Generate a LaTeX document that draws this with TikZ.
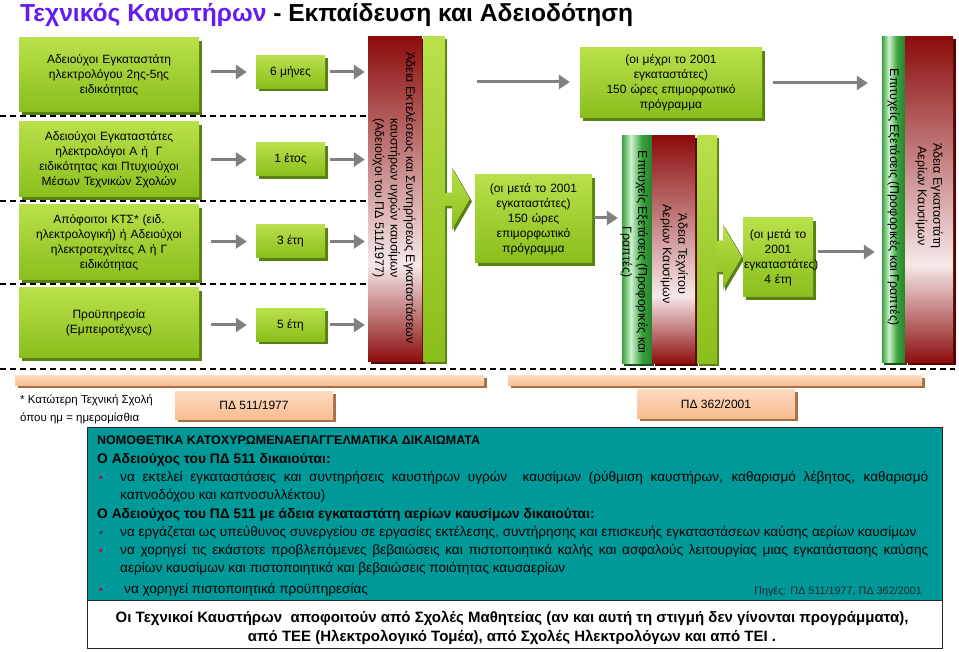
\documentclass[tikz,border=0pt]{standalone}
\usepackage{fontspec}
\setmainfont{Liberation Sans}
\usetikzlibrary{shadows,arrows.meta,calc}
\definecolor{titlepurple}{RGB}{100,28,240}
\definecolor{limeL}{RGB}{184,224,74}
\definecolor{limeD}{RGB}{138,190,28}
\definecolor{limeS}{RGB}{88,128,18}
\definecolor{rdark}{RGB}{140,12,12}
\definecolor{rlight}{RGB}{246,232,232}
\definecolor{rshadow}{RGB}{90,5,5}
\definecolor{eg}{RGB}{58,160,62}
\definecolor{el}{RGB}{205,242,205}
\definecolor{egd}{RGB}{40,130,45}
\definecolor{egS}{RGB}{20,80,20}
\definecolor{peachL}{RGB}{253,218,190}
\definecolor{peachD}{RGB}{248,188,145}
\definecolor{peachS}{RGB}{170,110,70}
\definecolor{teal0}{RGB}{0,153,153}
\definecolor{agray}{RGB}{128,128,128}
\definecolor{bulred}{RGB}{200,0,50}
\pgfdeclareverticalshading{redsh}{100bp}{color(0bp)=(rdark); color(25bp)=(rdark); color(40bp)=(rlight); color(75bp)=(rdark); color(100bp)=(rdark)}
\pgfdeclarehorizontalshading{examsh}{100bp}{color(0bp)=(eg); color(25bp)=(eg); color(40bp)=(el); color(58bp)=(eg); color(75bp)=(egd); color(100bp)=(egd)}
\tikzset{
  gbox/.style={top color=limeL, bottom color=limeD, draw=none,
    drop shadow={shadow xshift=2.5pt,shadow yshift=-3pt,fill=limeS,opacity=1},
    inner sep=1pt, align=center, font=\fontsize{12}{15}\selectfont, text=black},
  lbar/.style={top color=limeL, bottom color=limeD, draw=none,
    drop shadow={shadow xshift=2pt,shadow yshift=-2.5pt,fill=limeS,opacity=1}, inner sep=0pt},
  redbar/.style={shade, shading=redsh, draw=none,
    drop shadow={shadow xshift=2.5pt,shadow yshift=-2.5pt,fill=rshadow,opacity=1}, inner sep=0pt},
  exambar/.style={shade, shading=examsh, draw=none,
    drop shadow={shadow xshift=1.5pt,shadow yshift=-2.5pt,fill=egS,opacity=1}, inner sep=0pt},
  vtext/.style={rotate=-90, align=center, font=\fontsize{12.5}{15.5}\selectfont, inner sep=0pt},
  garr/.style={draw=agray, line width=3pt, -{Triangle[length=11pt,width=14pt]}},
  dline/.style={draw=black, line width=1.5pt, dash pattern=on 6pt off 4pt},
  pbox/.style={top color=peachL, bottom color=peachD, draw=none,
    drop shadow={shadow xshift=2.5pt,shadow yshift=-2.5pt,fill=peachS,opacity=1},
    inner sep=0pt, font=\fontsize{12}{14}\selectfont},
  tline/.style={anchor=base west, inner sep=0pt, font=\fontsize{13.6}{16}\selectfont},
  hline/.style={anchor=base west, inner sep=0pt, font=\fontsize{13.8}{16}\selectfont\bfseries},
  bul/.style={anchor=base west, inner sep=0pt, font=\fontsize{11}{12}\selectfont},
}
\begin{document}
\begin{tikzpicture}[x=1pt,y=-1pt]
\fill[white] (0,0) rectangle (959,652);
\useasboundingbox (0,0) rectangle (959,652);

% title
\node[anchor=base west, inner sep=0pt, font=\fontsize{24.6}{26}\selectfont\bfseries] (title) at (20,22)
  {\textcolor{titlepurple}{Τεχνικός Καυστήρων} - Εκπαίδευση και Αδειοδότηση};

% dashed separators
\coordinate (d1) at (0,116);
\coordinate (d2) at (0,201);
\coordinate (d3) at (0,284);
\coordinate (d4a) at (0,369);
\coordinate (d4b) at (955,369);

% left green boxes
\node[gbox, minimum width=180pt, minimum height=74pt, text width=176pt] (b1) at (109,75)
  {Αδειούχοι Εγκαταστάτη\\ηλεκτρολόγου 2ης-5ης\\ειδικότητας};
\node[gbox, minimum width=180pt, minimum height=75pt, text width=176pt] (b2) at (109,159.5)
  {Αδειούχοι Εγκαταστάτες\\ηλεκτρολόγοι Α ή\ \ Γ\\ειδικότητας και Πτυχιούχοι\\Μέσων Τεχνικών Σχολών};
\node[gbox, minimum width=180pt, minimum height=75pt, text width=176pt] (b3) at (109,242.5)
  {Απόφοιτοι ΚΤΣ* (ειδ.\\ηλεκτρολογική) ή Αδειούχοι\\ηλεκτροτεχνίτες Α ή Γ\\ειδικότητας};
\node[gbox, minimum width=180pt, minimum height=70pt, text width=176pt] (b4) at (109,323)
  {Προϋπηρεσία\\(Εμπειροτέχνες)};

% duration boxes
\node[gbox, minimum width=69pt, minimum height=33pt] (t1) at (290.5,72) {6 μήνες};
\node[gbox, minimum width=69pt, minimum height=33pt] (t2) at (290.5,159.5) {1 έτος};
\node[gbox, minimum width=69pt, minimum height=33pt] (t3) at (290.5,241.5) {3 έτη};
\node[gbox, minimum width=69pt, minimum height=33pt] (t4) at (290.5,325) {5 έτη};

% first licence bar
\node[redbar, minimum width=54pt, minimum height=325pt] (r1) at (395,199.5) {};
\node[lbar, minimum width=22pt, minimum height=325pt] (g1) at (434,199.5) {};
\node[vtext] (r1t) at (394,198)
  {Άδεια Εκτελέσεως και Συντηρήσεως Εγκαταστάσεων\\καυστήρων υγρών καυσίμων\\(Αδειούχοι του ΠΔ 511/1977)};

\draw[dline] (d1) -- (d1 -| r1.west);
\draw[dline] (d2) -- (d2 -| r1.west);
\draw[dline] (d3) -- (d3 -| r1.west);
\draw[dline] (d4a) -- (d4b);

% arrows left part
\foreach \i in {1,2,3,4}{
  \draw[garr] ($(b\i.east |- t\i.west)+(12,0)$) -- ($(t\i.west)+(-9,0)$);
  \draw[garr] ($(t\i.east)+(5,0)$) -- ($(t\i.east -| r1.west)+(-3,0)$);
}

% block arrow 1
\fill[top color=limeL, bottom color=limeD, drop shadow={shadow xshift=2pt,shadow yshift=-2.5pt,fill=limeS,opacity=1}]
  (g1.east |- 0,193) -- (452,193) -- (452,168) -- (470,199) -- (452,230) -- (452,206) -- (g1.east |- 0,206) -- cycle;

% middle boxes
\node[gbox, minimum width=117pt, minimum height=88pt, text width=113pt] (m1) at (533.5,219)
  {(οι μετά το 2001\\εγκαταστάτες)\\150 ώρες\\επιμορφωτικό\\πρόγραμμα};
\node[gbox, minimum width=182pt, minimum height=70pt, text width=178pt] (tp) at (671,83)
  {(οι μέχρι το 2001\\εγκαταστάτες)\\150 ώρες επιμορφωτικό\\πρόγραμμα};
\coordinate (a0) at (477,82);
\draw[garr] (a0) -- ($(tp.west |- a0)+(-10,0)$);

% middle licence group
\node[exambar, minimum width=30pt, minimum height=228pt] (e2) at (637,250) {};
\node[redbar, minimum width=43pt, minimum height=228pt] (r2) at (673.5,250) {};
\node[lbar, minimum width=20pt, minimum height=228pt] (g2) at (707,250) {};
\node[vtext] (e2t) at (634,252) {Επιτυχείς Εξετάσεις (Προφορικές και\\Γραπτές)};
\node[vtext] (r2t) at (674,254) {Άδεια Τεχνίτου\\Αερίων Καυσίμων};
\draw[garr] ($(m1.east |- 0,218)+(2,0)$) -- ($(e2.west |- 0,218)+(-4,0)$);

% block arrow 2
\fill[top color=limeL, bottom color=limeD, drop shadow={shadow xshift=2pt,shadow yshift=-2.5pt,fill=limeS,opacity=1}]
  (g2.east |- 0,241) -- (723,241) -- (723,225) -- (742,257) -- (723,289) -- (723,272) -- (g2.east |- 0,272) -- cycle;

\node[gbox, minimum width=70pt, minimum height=79pt, text width=68pt] (f1) at (778,257.5)
  {(οι μετά το\\2001\\εγκαταστάτες)\\4 έτη};

% right licence group
\node[exambar, minimum width=23pt, minimum height=326pt] (e3) at (893.5,200) {};
\node[redbar, minimum width=48pt, minimum height=326pt] (r3) at (929,200) {};
\node[vtext] (e3t) at (893.5,197) {Επιτυχείς Εξετάσεις (Προφορικές και Γραπτές)};
\node[vtext] (r3t) at (929,196) {Άδεια Εγκαταστάτη\\Αερίων Καυσίμων};

\draw[garr] ($(tp.east |- 0,83)+(11,0)$) -- ($(e3.west |- 0,83)+(-14,0)$);
\draw[garr] ($(f1.east |- 0,252)+(5,0)$) -- ($(e3.west |- 0,252)+(-7,0)$);

% orange bars
\node[pbox, minimum width=469pt, minimum height=10pt] (o1) at (249.5,381) {};
\node[pbox, minimum width=414pt, minimum height=10pt] (o2) at (715,381) {};
\node[pbox, minimum width=158pt, minimum height=27pt] (p1) at (254,405.5) {ΠΔ 511/1977};
\node[pbox, minimum width=158pt, minimum height=28pt] (p2) at (716,404) {ΠΔ 362/2001};

% footnote
\node[anchor=base west, inner sep=0pt, font=\fontsize{11.5}{12}\selectfont] (fn1) at (20,403) {* Κατώτερη Τεχνική Σχολή};
\node[anchor=base west, inner sep=0pt, font=\fontsize{11.5}{12}\selectfont] (fn2) at (20,421) {όπου ημ = ημερομίσθια};

% teal box
\node[draw=black!85, line width=1pt, fill=teal0, minimum width=855pt, minimum height=173pt, inner sep=0pt] (tb) at (514.5,513.5) {};
\node[draw=black!85, line width=1pt, fill=white, minimum width=855pt, minimum height=48pt, inner sep=0pt] (wb) at (514.5,624) {};

\node[anchor=base west, inner sep=0pt, font=\fontsize{12.5}{14}\selectfont\bfseries] (l1) at (97,444) {ΝΟΜΟΘΕΤΙΚΑ ΚΑΤΟΧΥΡΩΜΕΝΑΕΠΑΓΓΕΛΜΑΤΙΚΑ ΔΙΚΑΙΩΜΑΤΑ};
\node[hline] (l2) at (97,463) {Ο Αδειούχος του ΠΔ 511 δικαιούται:};
\node[bul, text=bulred] (u1) at (99,481) {•};
\node[tline] (l3) at (120,481) {\makebox[808pt][s]{να εκτελεί εγκαταστάσεις και συντηρήσεις καυστήρων υγρών\ \ καυσίμων (ρύθμιση καυστήρων, καθαρισμό λέβητος, καθαρισμό}};
\node[tline] (l4) at (120,499) {καπνοδόχου και καπνοσυλλέκτου)};
\node[hline] (l5) at (97,518) {Ο Αδειούχος του ΠΔ 511 με άδεια εγκαταστάτη αερίων καυσίμων δικαιούται:};
\node[bul, text=black!80] (u2) at (99,536) {•};
\node[tline] (l6) at (120,536) {να εργάζεται ως υπεύθυνος συνεργείου σε εργασίες εκτέλεσης, συντήρησης και επισκευής εγκαταστάσεων καύσης αερίων καυσίμων};
\node[bul, text=bulred] (u3) at (99,554) {•};
\node[tline] (l7) at (120,554) {\makebox[808pt][s]{να χορηγεί τις εκάστοτε προβλεπόμενες βεβαιώσεις και πιστοποιητικά καλής και ασφαλούς λειτουργίας μιας εγκατάστασης καύσης}};
\node[tline] (l8) at (120,572) {αερίων καυσίμων και πιστοποιητικά και βεβαιώσεις ποιότητας καυσαερίων};
\node[bul, text=bulred] (u4) at (99,593) {•};
\node[tline] (l9) at (124,593) {να χορηγεί πιστοποιητικά προϋπηρεσίας};
\node[anchor=base east, inner sep=0pt, font=\fontsize{10.8}{12}\selectfont, text=black!85] (src) at (922,594) {Πηγές: ΠΔ 511/1977, ΠΔ 362/2001};

\node[anchor=base, inner sep=0pt, font=\fontsize{15}{17}\selectfont\bfseries] (w1) at (512,622) {Οι Τεχνικοί Καυστήρων\ \ αποφοιτούν από Σχολές Μαθητείας (αν και αυτή τη στιγμή δεν γίνονται προγράμματα),};
\node[anchor=base, inner sep=0pt, font=\fontsize{15}{17}\selectfont\bfseries] (w2) at (512,641) {από ΤΕΕ (Ηλεκτρολογικό Τομέα), από Σχολές Ηλεκτρολόγων και από ΤΕΙ .};
\end{tikzpicture}
\end{document}
